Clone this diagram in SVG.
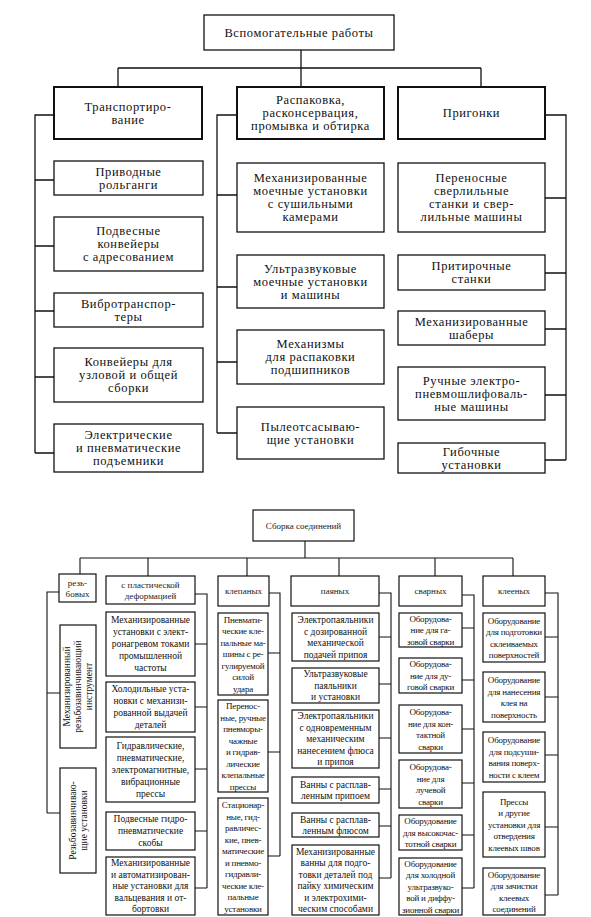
<svg xmlns="http://www.w3.org/2000/svg" width="591" height="917" viewBox="0 0 591 917">
<style>
.b1{fill:#fff;stroke:#111;stroke-width:2}
.b2{fill:#fff;stroke:#111;stroke-width:1.3}
.b3{fill:#fff;stroke:#111;stroke-width:1.2}
.ln{fill:none;stroke:#111;stroke-width:1.3}
.ln2{fill:none;stroke:#111;stroke-width:1.1}
.t1{font-family:"Liberation Serif","Times New Roman",serif;font-size:12.5px;text-anchor:middle;fill:#111;letter-spacing:0.6px}
.t2{font-family:"Liberation Serif","Times New Roman",serif;font-size:9.5px;text-anchor:middle;fill:#111}
.t2n{font-family:"Liberation Serif","Times New Roman",serif;font-size:9px;text-anchor:middle;fill:#111;letter-spacing:-0.2px}
.t3{font-family:"Liberation Serif","Times New Roman",serif;font-size:9px;text-anchor:middle;fill:#222}
</style>
<rect x="0" y="0" width="591" height="917" fill="#fff"/>

<g id="connectors">
<path class="ln" d="M301 50V68M118 68H481M118 68V87M301 68V87M481 68V87"/>
<path class="ln" d="M54 115H35V453M35 180H54M35 246H54M35 311H54M35 377H54M35 453H54"/>
<path class="ln" d="M237 115H217V433M217 195H237M217 287H237M217 362H237M217 433H237"/>
<path class="ln" d="M545 115H566V460M545 198H566M545 273H566M545 329H566M545 395H566M545 460H566"/>
<path class="ln2" d="M305 541V558M80 558H513M80 558V574M148 558V576M247 558V576M339 558V576M435 558V576M513 558V576"/>
<path class="ln2" d="M59 592H47V813M47 693H60M47 813H60"/>
<path class="ln2" d="M195 594H207V888M195 644H207M195 707H207M195 769H207M195 831H207M195 888H207"/>
<path class="ln2" d="M269 593H280V856M268 653H280M268 752H280M268 856H280"/>
<path class="ln2" d="M379 593H391V878M379 637H391M379 684H391M379 738H391M379 789H391M379 826H391M379 878H391"/>
<path class="ln2" d="M462 595H474V888M462 628H474M462 680H474M462 729H474M462 783H474M462 835H474M462 888H474"/>
<path class="ln2" d="M545 593H558V895M545 637H558M545 697H558M545 755H558M545 827H558M545 895H558"/>
</g>

<g id="n-root1"><rect class="b2" x="204" y="15" width="190" height="35"/><text class="t1" x="299" y="37">Вспомогательные работы</text></g>
<g id="n-transport"><rect class="b1" x="54" y="87" width="148" height="52"/><text class="t1" x="128"><tspan x="128" y="110.9">Транспортиро-</tspan><tspan x="128" y="123.9">вание</tspan></text></g>
<g id="n-raspak"><rect class="b1" x="237" y="87" width="147" height="52"/><text class="t1"><tspan x="310.5" y="104.4">Распаковка,</tspan><tspan x="310.5" y="117.4">расконсервация,</tspan><tspan x="310.5" y="130.4">промывка и обтирка</tspan></text></g>
<g id="n-prigonki"><rect class="b1" x="398" y="87" width="147" height="52"/><text class="t1" x="471.5" y="117.4">Пригонки</text></g>

<g id="n-l1"><rect class="b2" x="54" y="161" width="149" height="34"/><text class="t1"><tspan x="128.5" y="175.9">Приводные</tspan><tspan x="128.5" y="188.9">рольганги</tspan></text></g>
<g id="n-l2"><rect class="b2" x="54" y="217" width="149" height="54"/><text class="t1"><tspan x="128.5" y="235.4">Подвесные</tspan><tspan x="128.5" y="248.4">конвейеры</tspan><tspan x="128.5" y="261.4">с адресованием</tspan></text></g>
<g id="n-l3"><rect class="b2" x="54" y="293" width="149" height="34"/><text class="t1"><tspan x="128.5" y="307.9">Вибротранспор-</tspan><tspan x="128.5" y="320.9">теры</tspan></text></g>
<g id="n-l4"><rect class="b2" x="54" y="348" width="149" height="54"/><text class="t1"><tspan x="128.5" y="366.4">Конвейеры для</tspan><tspan x="128.5" y="379.4">узловой и общей</tspan><tspan x="128.5" y="392.4">сборки</tspan></text></g>
<g id="n-l5"><rect class="b2" x="54" y="424" width="149" height="48"/><text class="t1"><tspan x="128.5" y="439.4">Электрические</tspan><tspan x="128.5" y="452.4">и пневматические</tspan><tspan x="128.5" y="465.4">подъемники</tspan></text></g>

<g id="n-m1"><rect class="b2" x="237" y="163" width="147" height="69"/><text class="t1"><tspan x="310.5" y="182.4">Механизированные</tspan><tspan x="310.5" y="195.4">моечные установки</tspan><tspan x="310.5" y="208.4">с сушильными</tspan><tspan x="310.5" y="221.4">камерами</tspan></text></g>
<g id="n-m2"><rect class="b2" x="237" y="255" width="147" height="53"/><text class="t1"><tspan x="310.5" y="272.9">Ультразвуковые</tspan><tspan x="310.5" y="285.9">моечные установки</tspan><tspan x="310.5" y="298.9">и машины</tspan></text></g>
<g id="n-m3"><rect class="b2" x="237" y="330" width="147" height="54"/><text class="t1"><tspan x="310.5" y="348.4">Механизмы</tspan><tspan x="310.5" y="361.4">для распаковки</tspan><tspan x="310.5" y="374.4">подшипников</tspan></text></g>
<g id="n-m4"><rect class="b2" x="237" y="407" width="147" height="52"/><text class="t1"><tspan x="310.5" y="430.9">Пылеотсасываю-</tspan><tspan x="310.5" y="443.9">щие установки</tspan></text></g>

<g id="n-r1"><rect class="b2" x="398" y="163" width="147" height="69"/><text class="t1"><tspan x="471.5" y="182.4">Переносные</tspan><tspan x="471.5" y="195.4">сверлильные</tspan><tspan x="471.5" y="208.4">станки и свер-</tspan><tspan x="471.5" y="221.4">лильные машины</tspan></text></g>
<g id="n-r2"><rect class="b2" x="398" y="255" width="147" height="35"/><text class="t1"><tspan x="471.5" y="270.4">Притирочные</tspan><tspan x="471.5" y="283.4">станки</tspan></text></g>
<g id="n-r3"><rect class="b2" x="398" y="311" width="147" height="34"/><text class="t1"><tspan x="471.5" y="325.9">Механизированные</tspan><tspan x="471.5" y="338.9">шаберы</tspan></text></g>
<g id="n-r4"><rect class="b2" x="398" y="367" width="147" height="53"/><text class="t1"><tspan x="471.5" y="384.9">Ручные электро-</tspan><tspan x="471.5" y="397.9">пневмошлифоваль-</tspan><tspan x="471.5" y="410.9">ные машины</tspan></text></g>
<g id="n-r5"><rect class="b2" x="398" y="443" width="147" height="30"/><text class="t1"><tspan x="471.5" y="455.9">Гибочные</tspan><tspan x="471.5" y="468.9">установки</tspan></text></g>

<g id="n-root2"><rect class="b3" x="253" y="510" width="101" height="31"/><text class="t3" x="303.5" y="528.8">Сборка соединений</text></g>
<g id="n-h1"><rect class="b3" x="59" y="574" width="37" height="28"/><text class="t3"><tspan x="77.5" y="585.7">резь-</tspan><tspan x="77.5" y="596.7">бовых</tspan></text></g>
<g id="n-h2"><rect class="b3" x="106" y="576" width="89" height="28"/><text class="t3"><tspan x="150.5" y="587.7">с пластической</tspan><tspan x="150.5" y="598.7">деформацией</tspan></text></g>
<g id="n-h3"><rect class="b3" x="218" y="576" width="51" height="30"/><text class="t3" x="243.5" y="594.2">клепаных</text></g>
<g id="n-h4"><rect class="b3" x="291" y="576" width="88" height="30"/><text class="t3" x="335" y="594.2">паяных</text></g>
<g id="n-h5"><rect class="b3" x="399" y="576" width="63" height="30"/><text class="t3" x="430.5" y="594.2">сварных</text></g>
<g id="n-h6"><rect class="b3" x="483" y="576" width="62" height="30"/><text class="t3" x="514" y="594.2">клееных</text></g>

<g id="n-rz1"><rect class="b3" x="60" y="625" width="36" height="123"/><text class="t2" transform="rotate(-90 78 686.5)"><tspan x="78" y="678.8">Механизированный</tspan><tspan x="78" y="689.8">резьбозавинчивающий</tspan><tspan x="78" y="700.8">инструмент</tspan></text></g>
<g id="n-rz2"><rect class="b3" x="60" y="768" width="36" height="105"/><text class="t2" transform="rotate(-90 78 820.5)"><tspan x="78" y="818.3">Резьбозавинчиваю-</tspan><tspan x="78" y="829.3">щие установки</tspan></text></g>

<g id="n-p1"><rect class="b3" x="106" y="612" width="89" height="64"/><text class="t2"><tspan x="150.5" y="623.3">Механизированные</tspan><tspan x="150.5" y="635.3">установки с элект-</tspan><tspan x="150.5" y="647.3">ронагревом токами</tspan><tspan x="150.5" y="659.3">промышленной</tspan><tspan x="150.5" y="671.3">частоты</tspan></text></g>
<g id="n-p2"><rect class="b3" x="106" y="682" width="89" height="50"/><text class="t2"><tspan x="150.5" y="692.3">Холодильные уста-</tspan><tspan x="150.5" y="704.3">новки с механизи-</tspan><tspan x="150.5" y="716.3">рованной выдачей</tspan><tspan x="150.5" y="728.3">деталей</tspan></text></g>
<g id="n-p3"><rect class="b3" x="106" y="737" width="89" height="65"/><text class="t2"><tspan x="150.5" y="748.8">Гидравлические,</tspan><tspan x="150.5" y="760.8">пневматические,</tspan><tspan x="150.5" y="772.8">электромагнитные,</tspan><tspan x="150.5" y="784.8">вибрационные</tspan><tspan x="150.5" y="796.8">прессы</tspan></text></g>
<g id="n-p4"><rect class="b3" x="106" y="812" width="89" height="38"/><text class="t2"><tspan x="150.5" y="822.3">Подвесные гидро-</tspan><tspan x="150.5" y="834.3">пневматические</tspan><tspan x="150.5" y="846.3">скобы</tspan></text></g>
<g id="n-p5"><rect class="b3" x="106" y="857" width="89" height="58"/><text class="t2"><tspan x="150.5" y="866.3">Механизированные</tspan><tspan x="150.5" y="877.8">и автоматизирован-</tspan><tspan x="150.5" y="889.3">ные установки для</tspan><tspan x="150.5" y="900.8">вальцевания и от-</tspan><tspan x="150.5" y="912.3">бортовки</tspan></text></g>

<g id="n-k1"><rect class="b3" x="218" y="613" width="50" height="82"/><text class="t2n"><tspan x="243" y="622.8">Пневмати-</tspan><tspan x="243" y="634.3">ческие кле-</tspan><tspan x="243" y="645.8">пальные ма-</tspan><tspan x="243" y="657.3">шины с ре-</tspan><tspan x="243" y="668.8">гулируемой</tspan><tspan x="243" y="680.3">силой</tspan><tspan x="243" y="691.8">удара</tspan></text></g>
<g id="n-k2"><rect class="b3" x="218" y="700" width="50" height="92"/><text class="t2n"><tspan x="243" y="709.1">Перенос-</tspan><tspan x="243" y="720.6">ные, ручные</tspan><tspan x="243" y="732.1">пневморы-</tspan><tspan x="243" y="743.6">чажные</tspan><tspan x="243" y="755.1">и гидрав-</tspan><tspan x="243" y="766.6">лические</tspan><tspan x="243" y="778.1">клепальные</tspan><tspan x="243" y="789.6">прессы</tspan></text></g>
<g id="n-k3"><rect class="b3" x="218" y="798" width="50" height="117"/><text class="t2n"><tspan x="243" y="808.1">Стационар-</tspan><tspan x="243" y="819.6">ные, гид-</tspan><tspan x="243" y="831.1">равличес-</tspan><tspan x="243" y="842.6">кие, пнев-</tspan><tspan x="243" y="854.1">матические</tspan><tspan x="243" y="865.6">и пневмо-</tspan><tspan x="243" y="877.1">гидравли-</tspan><tspan x="243" y="888.6">ческие кле-</tspan><tspan x="243" y="900.1">пальные</tspan><tspan x="243" y="911.6">установки</tspan></text></g>

<g id="n-s1"><rect class="b3" x="292" y="613" width="87" height="48"/><text class="t2"><tspan x="335.5" y="623.1">Электропаяльники</tspan><tspan x="335.5" y="634.6">с дозированной</tspan><tspan x="335.5" y="646.1">механической</tspan><tspan x="335.5" y="657.6">подачей припоя</tspan></text></g>
<g id="n-s2"><rect class="b3" x="292" y="668" width="87" height="35"/><text class="t2"><tspan x="335.5" y="677.3">Ультразвуковые</tspan><tspan x="335.5" y="688.8">паяльники</tspan><tspan x="335.5" y="700.3">и установки</tspan></text></g>
<g id="n-s3"><rect class="b3" x="292" y="710" width="87" height="58"/><text class="t2"><tspan x="335.5" y="719.3">Электропаяльники</tspan><tspan x="335.5" y="730.8">с одновременным</tspan><tspan x="335.5" y="742.3">механическим</tspan><tspan x="335.5" y="753.8">нанесением флюса</tspan><tspan x="335.5" y="765.3">и припоя</tspan></text></g>
<g id="n-s4"><rect class="b3" x="292" y="777" width="87" height="26"/><text class="t2"><tspan x="335.5" y="787.6">Ванны с расплав-</tspan><tspan x="335.5" y="799.1">ленным припоем</tspan></text></g>
<g id="n-s5"><rect class="b3" x="292" y="813" width="87" height="24"/><text class="t2"><tspan x="335.5" y="822.6">Ванны с расплав-</tspan><tspan x="335.5" y="834.1">ленным флюсом</tspan></text></g>
<g id="n-s6"><rect class="b3" x="292" y="845" width="87" height="70"/><text class="t2"><tspan x="335.5" y="854.6">Механизированные</tspan><tspan x="335.5" y="866.1">ванны для подго-</tspan><tspan x="335.5" y="877.6">товки деталей под</tspan><tspan x="335.5" y="889.1">пайку химическим</tspan><tspan x="335.5" y="900.6">и электрохими-</tspan><tspan x="335.5" y="912.1">ческим способами</tspan></text></g>

<g id="n-w1"><rect class="b3" x="399" y="613" width="63" height="34"/><text class="t2n"><tspan x="430.5" y="621.8">Оборудова-</tspan><tspan x="430.5" y="633.3">ние для га-</tspan><tspan x="430.5" y="644.8">зовой сварки</tspan></text></g>
<g id="n-w2"><rect class="b3" x="399" y="658" width="63" height="35"/><text class="t2n"><tspan x="430.5" y="667.3">Оборудова-</tspan><tspan x="430.5" y="678.8">ние для ду-</tspan><tspan x="430.5" y="690.3">говой сварки</tspan></text></g>
<g id="n-w3"><rect class="b3" x="399" y="705" width="63" height="48"/><text class="t2n"><tspan x="430.5" y="715.1">Оборудова-</tspan><tspan x="430.5" y="726.6">ние для кон-</tspan><tspan x="430.5" y="738.1">тактной</tspan><tspan x="430.5" y="749.6">сварки</tspan></text></g>
<g id="n-w4"><rect class="b3" x="399" y="760" width="63" height="48"/><text class="t2n"><tspan x="430.5" y="770.1">Оборудова-</tspan><tspan x="430.5" y="781.6">ние для</tspan><tspan x="430.5" y="793.1">лучевой</tspan><tspan x="430.5" y="804.6">сварки</tspan></text></g>
<g id="n-w5"><rect class="b3" x="399" y="815" width="63" height="35"/><text class="t2n"><tspan x="430.5" y="824.3">Оборудование</tspan><tspan x="430.5" y="835.8">для высокочас-</tspan><tspan x="430.5" y="847.3">тотной сварки</tspan></text></g>
<g id="n-w6"><rect class="b3" x="399" y="858" width="63" height="57"/><text class="t2n"><tspan x="430.5" y="866.8">Оборудование</tspan><tspan x="430.5" y="878.3">для холодной</tspan><tspan x="430.5" y="889.8">ультразвуко-</tspan><tspan x="430.5" y="901.3">вой и диффу-</tspan><tspan x="430.5" y="912.8">зионной сварки</tspan></text></g>

<g id="n-g1"><rect class="b3" x="483" y="613" width="62" height="49"/><text class="t2n"><tspan x="514" y="623.6">Оборудование</tspan><tspan x="514" y="635.1">для подготовки</tspan><tspan x="514" y="646.6">склеиваемых</tspan><tspan x="514" y="658.1">поверхностей</tspan></text></g>
<g id="n-g2"><rect class="b3" x="483" y="672" width="62" height="50"/><text class="t2n"><tspan x="514" y="683.1">Оборудование</tspan><tspan x="514" y="694.6">для нанесения</tspan><tspan x="514" y="706.1">клея на</tspan><tspan x="514" y="717.6">поверхность</tspan></text></g>
<g id="n-g3"><rect class="b3" x="483" y="732" width="62" height="50"/><text class="t2n"><tspan x="514" y="743.1">Оборудование</tspan><tspan x="514" y="754.6">для подсуши-</tspan><tspan x="514" y="766.1">вания поверх-</tspan><tspan x="514" y="777.6">ности с клеем</tspan></text></g>
<g id="n-g4"><rect class="b3" x="483" y="792" width="62" height="65"/><text class="t2n"><tspan x="514" y="804.8">Прессы</tspan><tspan x="514" y="816.3">и другие</tspan><tspan x="514" y="827.8">установки для</tspan><tspan x="514" y="839.3">отвердения</tspan><tspan x="514" y="850.8">клеевых швов</tspan></text></g>
<g id="n-g5"><rect class="b3" x="483" y="868" width="62" height="47"/><text class="t2n"><tspan x="514" y="877.6">Оборудование</tspan><tspan x="514" y="889.1">для зачистки</tspan><tspan x="514" y="900.6">клеевых</tspan><tspan x="514" y="912.1">соединений</tspan></text></g>
</svg>
